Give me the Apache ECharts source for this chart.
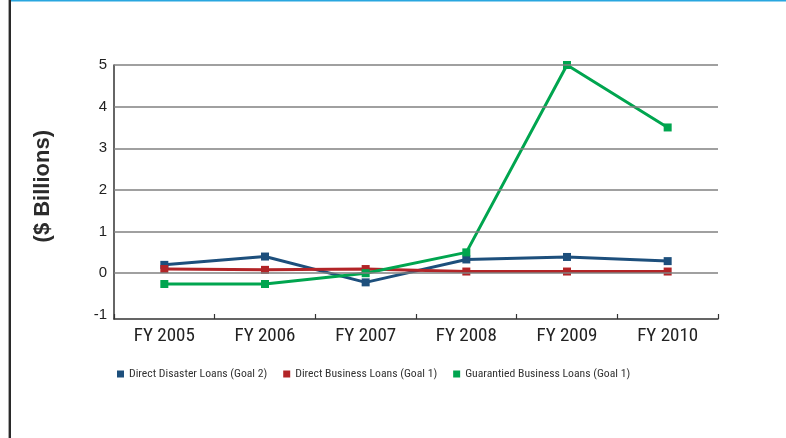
<!DOCTYPE html>
<html>
<head>
<meta charset="utf-8">
<script src="https://cdn.jsdelivr.net/npm/echarts@6/dist/echarts.min.js"></script>
<style>
  html, body { margin: 0; padding: 0; background: #fff; }
  #chart { width: 786px; height: 438px; }
</style>
</head>
<body>
<div id="chart"></div>
<script>
// Fiscal years on the category axis
const years = ['FY 2005', 'FY 2006', 'FY 2007', 'FY 2008', 'FY 2009', 'FY 2010'];

// Loan subsidy re-estimates, $ billions
const directDisaster = [0.2, 0.4, -0.22, 0.33, 0.39, 0.29];
const directBusiness = [0.1, 0.08, 0.1, 0.04, 0.04, 0.04];
const guaranteedBusiness = [-0.26, -0.26, 0.0, 0.5, 5.0, 3.5];

// Horizontal reference lines
const gridValues = [0, 1, 2, 3, 4, 5];

const seriesNames = [
  'Direct Disaster Loans (Goal 2)',
  'Direct Business Loans (Goal 1)',
  'Guarantied Business Loans (Goal 1)'
];
const colors = ['#1d4f7c', '#b22427', '#00a54f'];

const narrow = '"Roboto Condensed", "Liberation Sans Narrow", "Arial Narrow", "DejaVu Sans Condensed", sans-serif';

const chart = echarts.init(document.getElementById('chart'), null, { renderer: 'canvas' });

function lineSeries(name, data, color, extra) {
  return Object.assign({
    name: name,
    type: 'line',
    data: data,
    symbol: 'rect',
    symbolSize: 8,
    lineStyle: { color: color, width: 3 },
    itemStyle: { color: color },
    animation: false
  }, extra || {});
}

chart.setOption({
  animation: false,
  backgroundColor: '#ffffff',
  grid: { left: 114, right: 68, top: 65, bottom: 119 },
  graphic: [
    { type: 'rect', left: 11, top: 0, shape: { width: 775, height: 1.6 }, style: { fill: '#29a6df' } },
    { type: 'rect', left: 8, top: 0, shape: { width: 1, height: 438 }, style: { fill: '#a8a8a8' } },
    { type: 'rect', left: 9, top: 0, shape: { width: 2, height: 438 }, style: { fill: '#2a2a2a' } },
    {
      type: 'text',
      left: 32,
      top: 130,
      rotation: Math.PI / 2,
      style: {
        text: '($ Billions)',
        font: 'bold 22px "Liberation Sans", Arial, sans-serif',
        fill: '#2b2b2b'
      }
    }
  ],
  legend: {
    data: seriesNames,
    bottom: 53,
    left: 112,
    icon: 'rect',
    itemWidth: 7,
    itemHeight: 7,
    itemGap: 16,
    textStyle: { fontFamily: narrow, fontSize: 11.7, color: '#333333' }
  },
  xAxis: {
    type: 'category',
    data: years,
    boundaryGap: true,
    axisLine: { onZero: false, lineStyle: { color: '#333333', width: 1.5 } },
    axisTick: { show: true, inside: true, length: 5, lineStyle: { color: '#333333', width: 1.2 } },
    axisLabel: { fontFamily: narrow, fontSize: 19, color: '#222222', margin: 8 },
    splitLine: { show: false }
  },
  yAxis: {
    type: 'value',
    min: -1.1,
    max: 5,
    axisLine: { show: true, lineStyle: { color: '#333333', width: 1.5 } },
    axisTick: { show: false },
    splitLine: { show: false },
    axisLabel: {
      fontFamily: '"Liberation Sans", Arial, sans-serif',
      fontSize: 15,
      color: '#222222',
      margin: 7,
      showMinLabel: false,
      formatter: function (v) {
        return Number.isInteger(v) ? String(v) : '';
      }
    }
  },
  series: [
    lineSeries(seriesNames[0], directDisaster, colors[0], {
      z: 3,
      markLine: {
        silent: true,
        symbol: 'none',
        label: { show: false },
        animation: false,
        lineStyle: { color: '#808080', width: 1.5, type: 'solid' },
        data: gridValues.map(function (v) { return { yAxis: v }; })
      }
    }),
    lineSeries(seriesNames[1], directBusiness, colors[1], { z: 3 }),
    lineSeries(seriesNames[2], guaranteedBusiness, colors[2], { z: 4 })
  ]
});
</script>
</body>
</html>
